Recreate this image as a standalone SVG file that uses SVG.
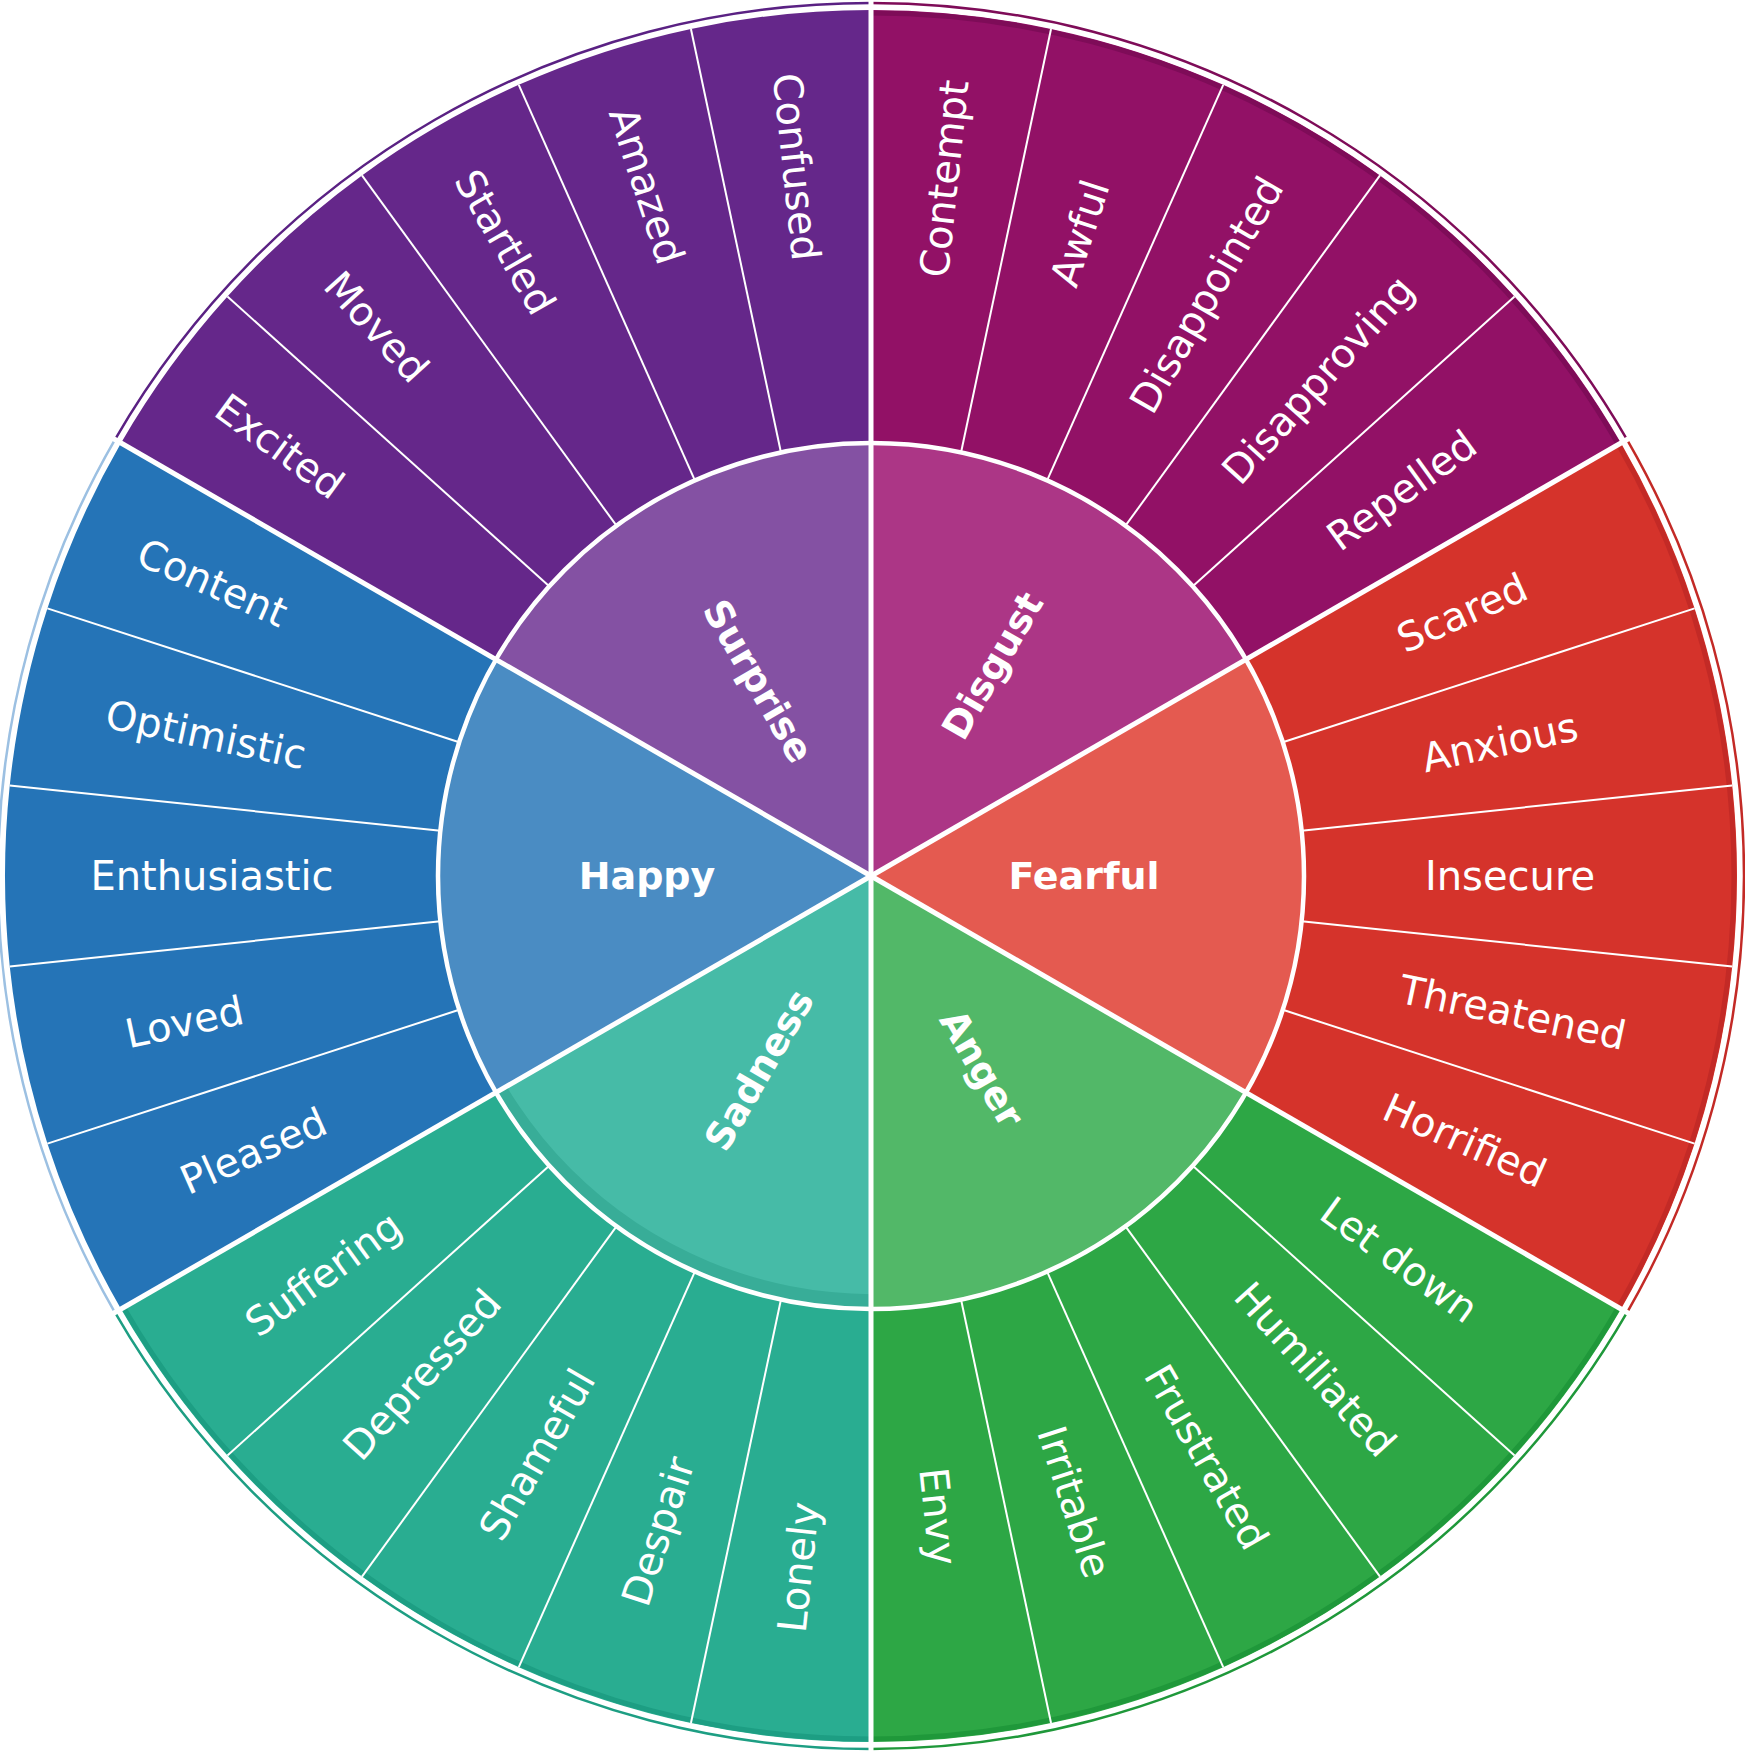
<svg xmlns="http://www.w3.org/2000/svg" xmlns:xlink="http://www.w3.org/1999/xlink" width="1745" height="1758" viewBox="0 0 1745 1758">
<style>
.sub{font-family:"DejaVu Sans","Liberation Sans",sans-serif;font-size:40px;fill:#ffffff;text-anchor:middle}
.main{font-family:"DejaVu Sans","Liberation Sans",sans-serif;font-size:38px;font-weight:bold;fill:#ffffff;text-anchor:middle}
.rim{fill:none;stroke-width:2.5}
.band{fill:none;stroke-width:5}
.subline{stroke:#ffffff;stroke-width:2}
.mainline{stroke:#ffffff;stroke-width:5}
</style>
<defs>
<path id="seg" d="M1298.644,831.053 L1732.256,785.479 A866,866 0 0 1 1732.256,966.521 L1298.644,920.947 A430,430 0 0 0 1298.644,831.053 Z"/>
<path id="wedge" d="M871,876 L1245.989,659.5 A433,433 0 0 1 1245.989,1092.5 Z"/>
<path id="rimarc" d="M1627.04,439.5 A873,873 0 0 1 1627.04,1312.5"/>
<path id="bandarc" d="M1618.38,444.5 A863,863 0 0 1 1618.38,1307.5"/>
<line id="sl" x1="1304" y1="876" x2="1737" y2="876"/>
<line id="ml" x1="871" y1="876" x2="1748" y2="876"/>
<clipPath id="sadclip"><use xlink:href="#wedge" href="#wedge" transform="rotate(120 871 876)"/></clipPath>
</defs>
<rect width="1745" height="1758" fill="#ffffff"/>

<!-- Surprise sub-emotions -->
<g id="excited"><use xlink:href="#seg" href="#seg" transform="rotate(216 871 876)" fill="#65278a"/><text class="sub" dy="0.35em" transform="translate(279.6,446.3) rotate(36)">Excited</text></g>
<g id="moved"><use xlink:href="#seg" href="#seg" transform="rotate(228 871 876)" fill="#65278a"/><text class="sub" dy="0.35em" transform="translate(376.5,326.8) rotate(48)">Moved</text></g>
<g id="startled"><use xlink:href="#seg" href="#seg" transform="rotate(240 871 876)" fill="#65278a"/><text class="sub" dy="0.35em" transform="translate(505,242.1) rotate(60)">Startled</text></g>
<g id="amazed"><use xlink:href="#seg" href="#seg" transform="rotate(252 871 876)" fill="#65278a"/><text class="sub" dy="0.35em" transform="translate(646.7,185.5) rotate(72)">Amazed</text></g>
<g id="confused"><use xlink:href="#seg" href="#seg" transform="rotate(264 871 876)" fill="#65278a"/><text class="sub" dy="0.35em" transform="translate(796.5,166.9) rotate(84)">Confused</text></g>

<!-- Disgust sub-emotions -->
<g id="contempt"><use xlink:href="#seg" href="#seg" transform="rotate(-84 871 876)" fill="#921166"/><text class="sub" dy="0.35em" transform="translate(944.3,178.8) rotate(-84)">Contempt</text></g>
<g id="awful"><use xlink:href="#seg" href="#seg" transform="rotate(-72 871 876)" fill="#921166"/><text class="sub" dy="0.35em" transform="translate(1079.9,233.1) rotate(-72)">Awful</text></g>
<g id="disappointed"><use xlink:href="#seg" href="#seg" transform="rotate(-60 871 876)" fill="#921166"/><text class="sub" dy="0.35em" transform="translate(1206.5,294.9) rotate(-60)">Disappointed</text></g>
<g id="disapproving"><use xlink:href="#seg" href="#seg" transform="rotate(-48 871 876)" fill="#921166"/><text class="sub" dy="0.35em" transform="translate(1318,379.6) rotate(-48)">Disapproving</text></g>
<g id="repelled"><use xlink:href="#seg" href="#seg" transform="rotate(-36 871 876)" fill="#921166"/><text class="sub" dy="0.35em" transform="translate(1401.7,490.4) rotate(-36)">Repelled</text></g>

<!-- Fearful sub-emotions -->
<g id="scared"><use xlink:href="#seg" href="#seg" transform="rotate(-24 871 876)" fill="#d5332b"/><text class="sub" dy="0.35em" transform="translate(1462.1,612.8) rotate(-24)">Scared</text></g>
<g id="anxious"><use xlink:href="#seg" href="#seg" transform="rotate(-12 871 876)" fill="#d5332b"/><text class="sub" dy="0.35em" transform="translate(1499.9,742.3) rotate(-12)">Anxious</text></g>
<g id="insecure"><use xlink:href="#seg" href="#seg" transform="rotate(0 871 876)" fill="#d5332b"/><text class="sub" dy="0.35em" transform="translate(1510,876) rotate(0)">Insecure</text></g>
<g id="threatened"><use xlink:href="#seg" href="#seg" transform="rotate(12 871 876)" fill="#d5332b"/><text class="sub" dy="0.35em" transform="translate(1512.7,1012.4) rotate(12)">Threatened</text></g>
<g id="horrified"><use xlink:href="#seg" href="#seg" transform="rotate(24 871 876)" fill="#d5332b"/><text class="sub" dy="0.35em" transform="translate(1464.8,1140.4) rotate(24)">Horrified</text></g>

<!-- Anger sub-emotions -->
<g id="let-down"><use xlink:href="#seg" href="#seg" transform="rotate(36 871 876)" fill="#2da745"/><text class="sub" dy="0.35em" transform="translate(1399.3,1259.8) rotate(36)">Let down</text></g>
<g id="humiliated"><use xlink:href="#seg" href="#seg" transform="rotate(48 871 876)" fill="#2da745"/><text class="sub" dy="0.35em" transform="translate(1315.3,1369.4) rotate(48)">Humiliated</text></g>
<g id="frustrated"><use xlink:href="#seg" href="#seg" transform="rotate(60 871 876)" fill="#2da745"/><text class="sub" dy="0.35em" transform="translate(1206.5,1457.1) rotate(60)">Frustrated</text></g>
<g id="irritable"><use xlink:href="#seg" href="#seg" transform="rotate(72 871 876)" fill="#2da745"/><text class="sub" dy="0.35em" transform="translate(1074.3,1501.8) rotate(72)">Irritable</text></g>
<g id="envy"><use xlink:href="#seg" href="#seg" transform="rotate(84 871 876)" fill="#2da745"/><text class="sub" dy="0.35em" transform="translate(938.3,1516.5) rotate(84)">Envy</text></g>

<!-- Sadness sub-emotions -->
<g id="lonely"><use xlink:href="#seg" href="#seg" transform="rotate(96 871 876)" fill="#29ad91"/><text class="sub" dy="0.35em" transform="translate(798.4,1567.2) rotate(-84)">Lonely</text></g>
<g id="despair"><use xlink:href="#seg" href="#seg" transform="rotate(108 871 876)" fill="#29ad91"/><text class="sub" dy="0.35em" transform="translate(658.1,1531.3) rotate(-72)">Despair</text></g>
<g id="shameful"><use xlink:href="#seg" href="#seg" transform="rotate(120 871 876)" fill="#29ad91"/><text class="sub" dy="0.35em" transform="translate(537,1454.5) rotate(-60)">Shameful</text></g>
<g id="depressed"><use xlink:href="#seg" href="#seg" transform="rotate(132 871 876)" fill="#29ad91"/><text class="sub" dy="0.35em" transform="translate(422,1374.6) rotate(-48)">Depressed</text></g>
<g id="suffering"><use xlink:href="#seg" href="#seg" transform="rotate(144 871 876)" fill="#29ad91"/><text class="sub" dy="0.35em" transform="translate(323.3,1273.9) rotate(-36)">Suffering</text></g>

<!-- Happy sub-emotions -->
<g id="pleased"><use xlink:href="#seg" href="#seg" transform="rotate(156 871 876)" fill="#2574b7"/><text class="sub" dy="0.35em" transform="translate(253.4,1151) rotate(-24)">Pleased</text></g>
<g id="loved"><use xlink:href="#seg" href="#seg" transform="rotate(168 871 876)" fill="#2574b7"/><text class="sub" dy="0.35em" transform="translate(184.3,1022) rotate(-12)">Loved</text></g>
<g id="enthusiastic"><use xlink:href="#seg" href="#seg" transform="rotate(180 871 876)" fill="#2574b7"/><text class="sub" dy="0.35em" transform="translate(212,876) rotate(0)">Enthusiastic</text></g>
<g id="optimistic"><use xlink:href="#seg" href="#seg" transform="rotate(192 871 876)" fill="#2574b7"/><text class="sub" dy="0.35em" transform="translate(205.9,734.6) rotate(12)">Optimistic</text></g>
<g id="content"><use xlink:href="#seg" href="#seg" transform="rotate(204 871 876)" fill="#2574b7"/><text class="sub" dy="0.35em" transform="translate(212.3,582.7) rotate(24)">Content</text></g>

<!-- Edge decoration -->
<g id="edges">
<use xlink:href="#bandarc" href="#bandarc" class="band" transform="rotate(-60 871 876)" stroke="#7e0c58"/>
<use xlink:href="#bandarc" href="#bandarc" class="band" transform="rotate(0 871 876)" stroke="#c32a26"/>
<use xlink:href="#bandarc" href="#bandarc" class="band" transform="rotate(60 871 876)" stroke="#1f983a"/>
<use xlink:href="#bandarc" href="#bandarc" class="band" transform="rotate(120 871 876)" stroke="#1d9e83"/>
<use xlink:href="#rimarc" href="#rimarc" class="rim" transform="rotate(240 871 876)" stroke="#5a2183"/>
<use xlink:href="#rimarc" href="#rimarc" class="rim" transform="rotate(-60 871 876)" stroke="#7e0c58"/>
<use xlink:href="#rimarc" href="#rimarc" class="rim" transform="rotate(0 871 876)" stroke="#c32a26"/>
<use xlink:href="#rimarc" href="#rimarc" class="rim" transform="rotate(60 871 876)" stroke="#1f983a"/>
<use xlink:href="#rimarc" href="#rimarc" class="rim" transform="rotate(120 871 876)" stroke="#1d9e83"/>
<use xlink:href="#rimarc" href="#rimarc" class="rim" transform="rotate(180 871 876)" stroke="#9cc0e2" stroke-width="1.5"/>
</g>

<!-- Core emotions -->
<g id="surprise"><use xlink:href="#wedge" href="#wedge" transform="rotate(240 871 876)" fill="#8451a3"/><text class="main" dy="0.35em" transform="translate(758.5,681.1) rotate(60)">Surprise</text></g>
<g id="disgust"><use xlink:href="#wedge" href="#wedge" transform="rotate(-60 871 876)" fill="#ac3686"/><text class="main" dy="0.35em" transform="translate(992.5,665.6) rotate(-60)">Disgust</text></g>
<g id="fearful"><use xlink:href="#wedge" href="#wedge" transform="rotate(0 871 876)" fill="#e45a50"/><text class="main" dy="0.35em" transform="translate(1084,876) rotate(0)">Fearful</text></g>
<g id="anger"><use xlink:href="#wedge" href="#wedge" transform="rotate(60 871 876)" fill="#52b868"/><text class="main" dy="0.35em" transform="translate(982,1068.3) rotate(60)">Anger</text></g>
<g id="sadness"><use xlink:href="#wedge" href="#wedge" transform="rotate(120 871 876)" fill="#46bba7"/><path clip-path="url(#sadclip)" fill="#38ad98" fill-rule="evenodd" d="M438,876 A433,433 0 1 0 1304,876 A433,433 0 1 0 438,876 Z M446,867 A427,427 0 1 0 1300,867 A427,427 0 1 0 446,867 Z"/><text class="main" dy="0.35em" transform="translate(759,1070) rotate(-60)">Sadness</text></g>
<g id="happy"><use xlink:href="#wedge" href="#wedge" transform="rotate(180 871 876)" fill="#4a8cc3"/><text class="main" dy="0.35em" transform="translate(647,876) rotate(0)">Happy</text></g>

<!-- Connectors / dividers -->
<g id="connectors">
<use xlink:href="#sl" href="#sl" class="subline" transform="rotate(-78 871 876)"/>
<use xlink:href="#sl" href="#sl" class="subline" transform="rotate(-66 871 876)"/>
<use xlink:href="#sl" href="#sl" class="subline" transform="rotate(-54 871 876)"/>
<use xlink:href="#sl" href="#sl" class="subline" transform="rotate(-42 871 876)"/>
<use xlink:href="#sl" href="#sl" class="subline" transform="rotate(-18 871 876)"/>
<use xlink:href="#sl" href="#sl" class="subline" transform="rotate(-6 871 876)"/>
<use xlink:href="#sl" href="#sl" class="subline" transform="rotate(6 871 876)"/>
<use xlink:href="#sl" href="#sl" class="subline" transform="rotate(18 871 876)"/>
<use xlink:href="#sl" href="#sl" class="subline" transform="rotate(42 871 876)"/>
<use xlink:href="#sl" href="#sl" class="subline" transform="rotate(54 871 876)"/>
<use xlink:href="#sl" href="#sl" class="subline" transform="rotate(66 871 876)"/>
<use xlink:href="#sl" href="#sl" class="subline" transform="rotate(78 871 876)"/>
<use xlink:href="#sl" href="#sl" class="subline" transform="rotate(102 871 876)"/>
<use xlink:href="#sl" href="#sl" class="subline" transform="rotate(114 871 876)"/>
<use xlink:href="#sl" href="#sl" class="subline" transform="rotate(126 871 876)"/>
<use xlink:href="#sl" href="#sl" class="subline" transform="rotate(138 871 876)"/>
<use xlink:href="#sl" href="#sl" class="subline" transform="rotate(162 871 876)"/>
<use xlink:href="#sl" href="#sl" class="subline" transform="rotate(174 871 876)"/>
<use xlink:href="#sl" href="#sl" class="subline" transform="rotate(186 871 876)"/>
<use xlink:href="#sl" href="#sl" class="subline" transform="rotate(198 871 876)"/>
<use xlink:href="#sl" href="#sl" class="subline" transform="rotate(222 871 876)"/>
<use xlink:href="#sl" href="#sl" class="subline" transform="rotate(234 871 876)"/>
<use xlink:href="#sl" href="#sl" class="subline" transform="rotate(246 871 876)"/>
<use xlink:href="#sl" href="#sl" class="subline" transform="rotate(258 871 876)"/>
<circle cx="871" cy="876" r="433" fill="none" stroke="#ffffff" stroke-width="4.5"/>
<use xlink:href="#ml" href="#ml" class="mainline" transform="rotate(-90 871 876)"/>
<use xlink:href="#ml" href="#ml" class="mainline" transform="rotate(-30 871 876)"/>
<use xlink:href="#ml" href="#ml" class="mainline" transform="rotate(30 871 876)"/>
<use xlink:href="#ml" href="#ml" class="mainline" transform="rotate(90 871 876)"/>
<use xlink:href="#ml" href="#ml" class="mainline" transform="rotate(150 871 876)"/>
<use xlink:href="#ml" href="#ml" class="mainline" transform="rotate(210 871 876)"/>
</g>
</svg>
